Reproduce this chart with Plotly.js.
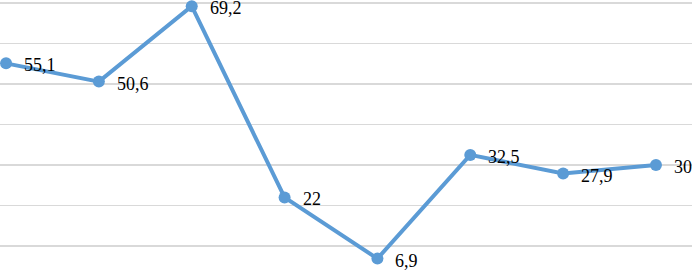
<!DOCTYPE html>
<html>
<head>
<meta charset="utf-8">
<script src="https://cdn.plot.ly/plotly-3.0.1.min.js"></script>
<style>html,body{margin:0;padding:0;background:#fff;}#chart{width:692px;height:270px;}</style>
</head>
<body>
<div id="chart"></div>
<script>
const categories = [1, 2, 3, 4, 5, 6, 7, 8];
const values = [55.1, 50.6, 69.2, 22, 6.9, 32.5, 27.9, 30];
const labels = values.map(v => String(v).replace('.', ','));

const trace = {
  x: categories,
  y: values,
  mode: 'lines+markers',
  line: {color: '#5B9BD5', width: 4},
  marker: {color: '#5B9BD5', size: 12},
  cliponaxis: false,
  hoverinfo: 'none'
};

const annotations = categories.map((c, i) => ({
  x: c, y: values[i], text: labels[i],
  xref: 'x', yref: 'y', showarrow: false,
  xanchor: 'left', yanchor: 'middle',
  xshift: 16, yshift: -2,
  font: {family: 'Liberation Serif', size: 18, color: '#000'}
}));

const layout = {
  width: 692, height: 270,
  margin: {l: 0, r: 0, t: 0, b: 0},
  paper_bgcolor: '#fff', plot_bgcolor: '#fff',
  showlegend: false,
  annotations: annotations,
  xaxis: {range: [0.935, 8.388], showgrid: false, zeroline: false, showticklabels: false, ticks: '', showline: false},
  yaxis: {range: [4.09, 70.74], tickvals: [10, 20, 30, 40, 50, 60, 70], showgrid: true, gridcolor: '#d9d9d9', gridwidth: 1.5, zeroline: false, showticklabels: false, ticks: '', showline: false}
};

Plotly.newPlot('chart', [trace], layout, {displayModeBar: false, staticPlot: true});
</script>
</body>
</html>
